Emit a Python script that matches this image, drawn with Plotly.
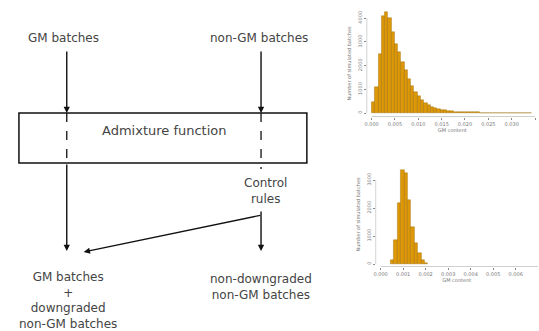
import plotly.graph_objects as go

W, H = 539, 331

# ---- data ----
top_bin_start = 0.0
top_bin_width = 0.0007
top_counts = [460, 1100, 2500, 4100, 4250, 4000, 3400, 2900, 2550, 2150, 1800,
              1450, 1150, 900, 700, 540, 420, 330, 260, 210, 170, 135, 110, 90,
              75, 60, 50, 45, 40, 35, 30, 27, 24, 21, 18, 16, 14, 12, 10, 9, 8,
              7, 6, 5, 4, 3, 3, 2, 2]
top_xticks = [0.000, 0.005, 0.010, 0.015, 0.020, 0.025, 0.030, 0.035]
top_xticklabels = ["0.000", "0.005", "0.010", "0.015", "0.020", "0.025", "0.030", "0.035"]
top_yticks = [0, 1000, 2000, 3000, 4000]

bot_bin_start = 0.00045
bot_bin_width = 0.00015
bot_counts = [140, 860, 2180, 3360, 3250, 2290, 1320, 750, 390, 140, 40]
bot_xticks = [0.000, 0.001, 0.002, 0.003, 0.004, 0.005, 0.006, 0.007]
bot_xticklabels = ["0.000", "0.001", "0.002", "0.003", "0.004", "0.005", "0.006", "0.007"]
bot_yticks = [0, 1000, 2000, 3000]

x_title = "GM content"
y_title = "Number of simulated batches"

top_labels = ["GM batches", "non-GM batches"]
box_label = "Admixture function"
control_label = "Control<br>rules"
out_left = "GM batches<br>+<br>downgraded<br>non-GM batches"
out_right = "non-downgraded<br>non-GM batches"


def px(x):
    return x / W


def py(y):
    return 1 - y / H


top_centers = [top_bin_start + top_bin_width * (i + 0.5) for i in range(len(top_counts))]
bot_centers = [bot_bin_start + bot_bin_width * (i + 0.5) for i in range(len(bot_counts))]

fig = go.Figure()
bar_style = dict(marker=dict(color="#DC9806", line=dict(color="#9A6400", width=0.4)),
                 showlegend=False, hoverinfo="skip")
fig.add_trace(go.Bar(x=top_centers, y=top_counts, width=top_bin_width,
                     xaxis="x", yaxis="y", **bar_style))
fig.add_trace(go.Bar(x=bot_centers, y=bot_counts, width=bot_bin_width,
                     xaxis="x2", yaxis="y2", **bar_style))

tickfont = dict(family="DejaVu Sans", size=5, color="#777")
common_x = dict(showgrid=False, zeroline=False, showline=False, ticks="outside",
                ticklen=2, tickcolor="#888", tickfont=tickfont)
common_y = dict(showgrid=False, zeroline=False, showline=False, ticks="outside",
                ticklen=2, tickcolor="#888", tickfont=tickfont, tickangle=-90)

# top histogram axes
t_x0, t_x1 = 366, 538
t_y0, t_y1 = 10, 117
fig.update_layout(
    xaxis=dict(domain=[px(t_x0), px(t_x1)], anchor="y",
               range=[-0.00107, 0.03564], tickvals=top_xticks,
               ticktext=top_xticklabels,
               title=dict(text=x_title, font=tickfont, standoff=2), **common_x),
    yaxis=dict(domain=[py(t_y1), py(t_y0)], anchor="x",
               range=[-168, 4337], tickvals=top_yticks,
               title=dict(text=y_title, font=tickfont, standoff=4), **common_y),
    xaxis2=dict(domain=[px(375), px(538)], anchor="y2",
                range=[-0.000221, 0.00699], tickvals=bot_xticks,
                ticktext=bot_xticklabels,
                title=dict(text=x_title, font=tickfont, standoff=2), **common_x),
    yaxis2=dict(domain=[py(267), py(162)], anchor="x2",
                range=[-107, 3643], tickvals=bot_yticks,
                title=dict(text=y_title, font=tickfont, standoff=4), **common_y),
)

shapes = []
axis_line = dict(color="#888", width=0.8)
# histogram axis lines (R style)
shapes.append(dict(type="line", xref="x", yref="y", x0=top_xticks[0], x1=top_xticks[-1],
                   y0=-168, y1=-168, line=axis_line))
shapes.append(dict(type="line", xref="x", yref="y", x0=-0.00107, x1=-0.00107,
                   y0=top_yticks[0], y1=top_yticks[-1], line=axis_line))
shapes.append(dict(type="line", xref="x2", yref="y2", x0=bot_xticks[0], x1=bot_xticks[-1],
                   y0=-107, y1=-107, line=axis_line))
shapes.append(dict(type="line", xref="x2", yref="y2", x0=-0.000221, x1=-0.000221,
                   y0=bot_yticks[0], y1=bot_yticks[-1], line=axis_line))

# diagram
line_c = "#111"
shapes.append(dict(type="rect", xref="paper", yref="paper",
                   x0=px(17), x1=px(306), y0=py(163), y1=py(113),
                   line=dict(color=line_c, width=1.5)))
shapes.append(dict(type="line", xref="paper", yref="paper", x0=px(65), x1=px(65),
                   y0=py(113), y1=py(163), line=dict(color=line_c, width=1.3, dash="dash")))
shapes.append(dict(type="line", xref="paper", yref="paper", x0=px(260), x1=px(260),
                   y0=py(113), y1=py(169), line=dict(color=line_c, width=1.3, dash="dash")))
fig.update_layout(shapes=shapes)

annotations = []


def arrow(x0, y0, x1, y1):
    annotations.append(dict(xref="paper", yref="paper", x=px(x1), y=py(y1),
                            ax=x0 - x1, ay=y0 - y1, axref="pixel", ayref="pixel",
                            text="", showarrow=True, arrowhead=2, arrowsize=0.9,
                            arrowwidth=1.4, arrowcolor=line_c))


arrow(65, 50, 65, 113)
arrow(260, 50, 260, 113)
arrow(65, 163, 65, 251)
arrow(260, 210, 260, 251)
arrow(260, 215, 82, 252)


def text(x, y, s, size=12):
    annotations.append(dict(xref="paper", yref="paper", x=px(x), y=py(y), text=s,
                            showarrow=False, xanchor="center", yanchor="middle",
                            font=dict(family="DejaVu Sans", size=size, color="#444")))


text(62, 38, top_labels[0])
text(258, 38, top_labels[1])
text(163, 130, box_label, 13)
text(264, 191, control_label)
text(66, 300, out_left)
text(260, 287, out_right)
fig.update_layout(annotations=annotations)

fig.update_layout(width=W, height=H, margin=dict(l=0, r=0, t=0, b=0),
                  paper_bgcolor="white", plot_bgcolor="white", bargap=0)

fig.write_html("out.html")
